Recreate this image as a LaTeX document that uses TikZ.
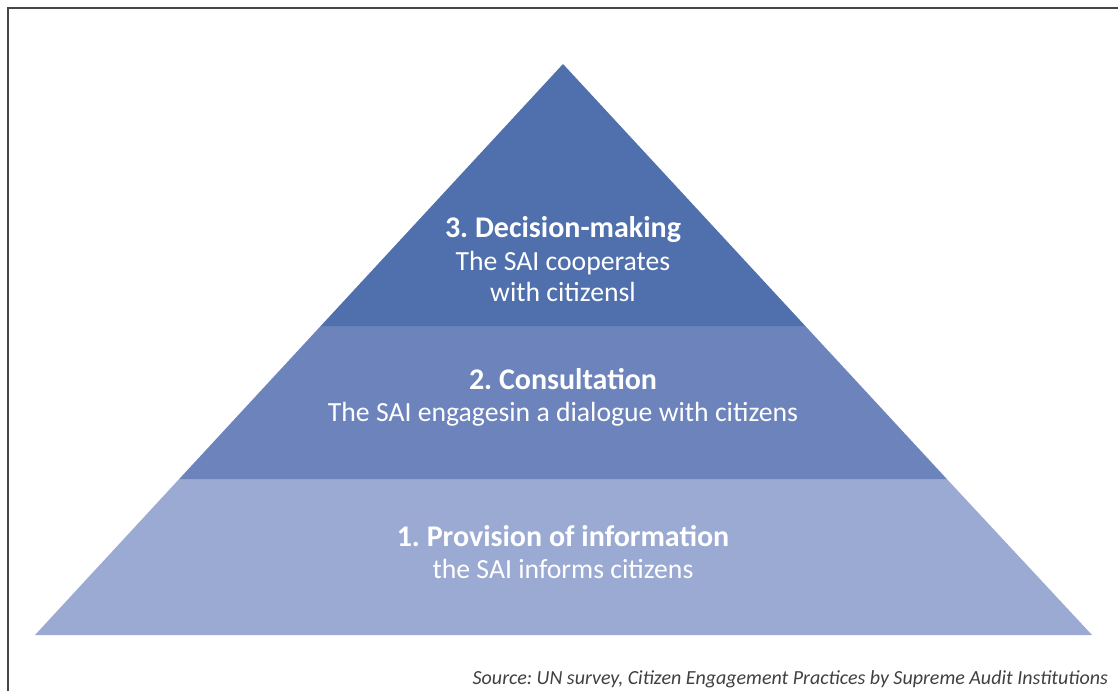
\documentclass[tikz,border=0pt]{standalone}
\usepackage{fontspec}
\setmainfont{Carlito}
\definecolor{topband}{RGB}{79,112,173}
\definecolor{midband}{RGB}{108,131,188}
\definecolor{lowband}{RGB}{155,170,210}
\definecolor{framegray}{RGB}{70,70,70}
\definecolor{srcgray}{RGB}{64,64,64}
\begin{document}
\frenchspacing
\begin{tikzpicture}[x=1pt,y=-1pt,
  headtext/.style={text=white,font=\fontsize{30}{33}\selectfont\bfseries,anchor=base},
  bodytext/.style={text=white,font=\fontsize{27.7}{31}\selectfont,anchor=base},
  srctext/.style={text=srcgray,font=\fontsize{20}{22}\selectfont\itshape,anchor=base east,inner sep=0pt}]
\useasboundingbox (0,0) rectangle (1118,691);
\draw[framegray,line width=1.5pt] (8,691) -- (8,8) -- (1118,8);
% pyramid
\coordinate (apex) at (563,64);
\coordinate (bl) at (35,635);
\coordinate (br) at (1092,635);
\coordinate (l1) at (179.2,479);
\coordinate (r1) at (946.8,479);
\coordinate (l2) at (320.7,326);
\coordinate (r2) at (805.3,326);
\fill[lowband] (bl) -- (br) -- (r1) -- (l1) -- cycle;
\fill[midband] (l1) -- (r1) -- (r2) -- (l2) -- cycle;
\fill[topband] (l2) -- (r2) -- (apex) -- cycle;
% texts
\node[headtext] (h3) at (563,237) {3. Decision-making};
\node[bodytext] (b3a) at (563,270) {The SAI cooperates};
\node[bodytext] (b3b) at (563,301) {with citizensl};
\node[headtext] (h2) at (563,389) {2. Consultation};
\node[bodytext] (b2) at (563,421) {The SAI engagesin a dialogue with citizens};
\node[headtext] (h1) at (563,546) {1. Provision of information};
\node[bodytext] (b1) at (563,578) {the SAI informs citizens};
\node[srctext] (src) at (1108,684) {Source: UN survey, Citizen Engagement Practices by Supreme Audit Institutions};
\end{tikzpicture}
\end{document}
